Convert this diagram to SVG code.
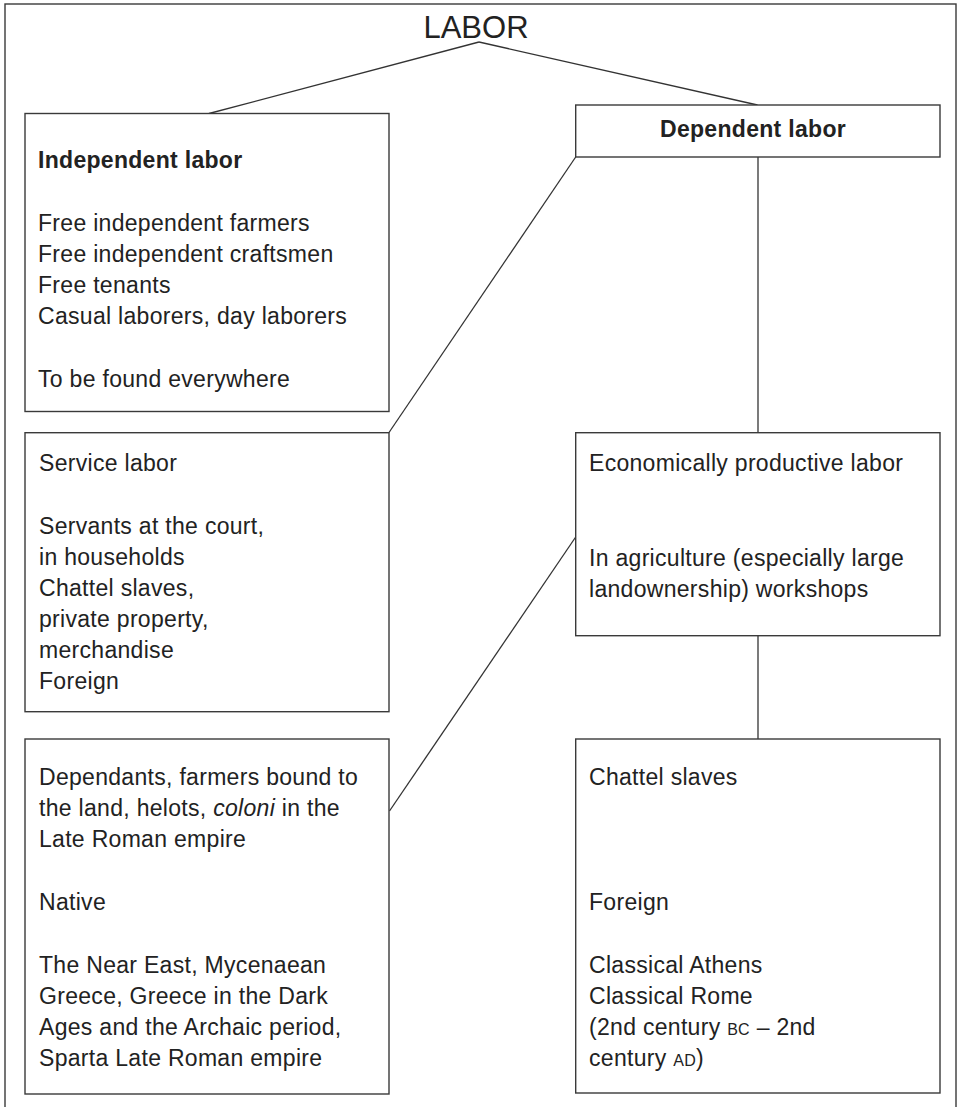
<svg xmlns="http://www.w3.org/2000/svg" width="960" height="1107" viewBox="0 0 960 1107">
<style>
.box{fill:#fff;stroke:#3a3a3a;stroke-width:1.4}
.frame{fill:none;stroke:#3a3a3a;stroke-width:1.4}
.con{stroke:#333;stroke-width:1.3;fill:none}
text{font-family:"Liberation Sans",Arial,Helvetica,sans-serif;fill:#222;font-size:23px;letter-spacing:0.3px}
.b{font-weight:bold}
.sc{font-size:16px;letter-spacing:0.3px}
.title{font-size:31px;letter-spacing:0}
</style>
<rect class="frame" x="5" y="4" width="951" height="1120"/>
<g id="connectors">
<line class="con" x1="479" y1="42" x2="209" y2="113.5"/>
<line class="con" x1="479" y1="42" x2="757.5" y2="105"/>
<line class="con" x1="575.7" y1="157" x2="389" y2="432.5"/>
<line class="con" x1="758" y1="157" x2="758" y2="433"/>
<line class="con" x1="575.7" y1="537" x2="389.5" y2="811"/>
<line class="con" x1="758" y1="636" x2="758" y2="739"/>
</g>
<g id="labor">
<text class="title" x="476" y="37.5" text-anchor="middle">LABOR</text>
</g>
<g id="independent">
<rect class="box" x="25" y="113.5" width="364" height="298"/>
<text class="b" x="38" y="168">Independent labor</text>
<text x="38" y="231">Free independent farmers</text>
<text x="38" y="262">Free independent craftsmen</text>
<text x="38" y="293">Free tenants</text>
<text x="38" y="324">Casual laborers, day laborers</text>
<text x="38" y="387">To be found everywhere</text>
</g>
<g id="dependent">
<rect class="box" x="575.7" y="105" width="364.3" height="52"/>
<text class="b" x="753" y="137" text-anchor="middle">Dependent labor</text>
</g>
<g id="service">
<rect class="box" x="25" y="432.7" width="364" height="279"/>
<text x="39" y="471">Service labor</text>
<text x="39" y="534">Servants at the court,</text>
<text x="39" y="565">in households</text>
<text x="39" y="596">Chattel slaves,</text>
<text x="39" y="627">private property,</text>
<text x="39" y="658">merchandise</text>
<text x="39" y="689">Foreign</text>
</g>
<g id="economic">
<rect class="box" x="575.7" y="432.7" width="364.3" height="203"/>
<text x="589" y="471">Economically productive labor</text>
<text x="589" y="566">In agriculture (especially large</text>
<text x="589" y="597">landownership) workshops</text>
</g>
<g id="dependants">
<rect class="box" x="25" y="739" width="364" height="355"/>
<text x="39" y="785">Dependants, farmers bound to</text>
<text x="39" y="816">the land, helots, <tspan font-style="italic">coloni</tspan> in the</text>
<text x="39" y="847">Late Roman empire</text>
<text x="39" y="910">Native</text>
<text x="39" y="973">The Near East, Mycenaean</text>
<text x="39" y="1004">Greece, Greece in the Dark</text>
<text x="39" y="1035">Ages and the Archaic period,</text>
<text x="39" y="1066">Sparta Late Roman empire</text>
</g>
<g id="chattel">
<rect class="box" x="575.7" y="739" width="364.3" height="354"/>
<text x="589" y="785">Chattel slaves</text>
<text x="589" y="910">Foreign</text>
<text x="589" y="973">Classical Athens</text>
<text x="589" y="1004">Classical Rome</text>
<text x="589" y="1035">(2nd century <tspan class="sc">BC</tspan> – 2nd</text>
<text x="589" y="1066">century <tspan class="sc">AD</tspan>)</text>
</g>
</svg>
